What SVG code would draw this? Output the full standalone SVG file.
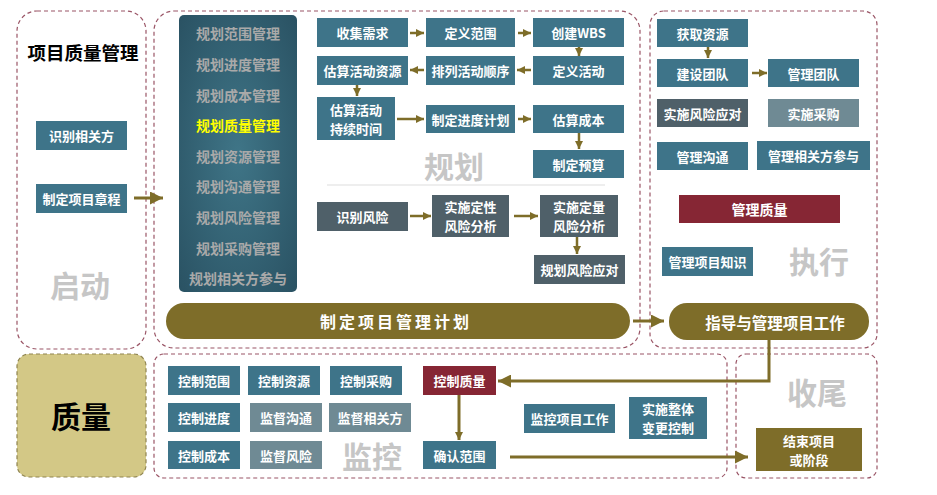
<svg xmlns="http://www.w3.org/2000/svg" width="937" height="495" viewBox="0 0 937 495">
<style>
text{font-family:"Noto Sans CJK SC","Liberation Sans",sans-serif;font-weight:bold;text-anchor:middle;dominant-baseline:central}
.panel{fill:#fff;stroke:#9A5566;stroke-width:1.2;stroke-dasharray:4 3}
.teal{fill:#3E7489}
.slate{fill:#4F6069}
.grayt{fill:#6F8A94}
.red{fill:#862634}
.olive{fill:#7E6D29}
.bt{fill:#fff;font-size:13px}
.pt{fill:#A9A9A9;font-size:14px}
.phase{fill:#C6C6C6;font-size:30px}
.con{stroke:#7E6D29;stroke-width:2.5;fill:none}
.conL{stroke:#7E6D29;stroke-width:3;fill:none}
</style>
<defs>
<marker id="ah" viewBox="0 0 10 10" refX="10" refY="5" markerWidth="8" markerHeight="8" markerUnits="userSpaceOnUse" orient="auto"><path d="M0,0 L10,5 L0,10 z" fill="#7E6D29"/></marker>
<marker id="ahL" viewBox="0 0 10 10" refX="10" refY="5" markerWidth="13" markerHeight="13" markerUnits="userSpaceOnUse" orient="auto"><path d="M0,0 L10,5 L0,10 z" fill="#7E6D29"/></marker>
<radialGradient id="colg" cx="0.5" cy="0.5" r="0.7"><stop offset="0" stop-color="#3F7587"/><stop offset="1" stop-color="#2A5263"/></radialGradient>
</defs>
<rect width="937" height="495" fill="#fff"/>

<g id="panels">
<rect class="panel" x="17" y="11" width="129" height="338" rx="20"/>
<rect class="panel" x="154" y="11" width="486" height="337" rx="20"/>
<rect class="panel" x="650" y="11" width="227" height="337" rx="14"/>
<rect x="17" y="354" width="129" height="123" rx="12" fill="#D3C886" stroke="#8F8450" stroke-width="1.2" stroke-dasharray="4 3"/>
<rect class="panel" x="154" y="354" width="573" height="124" rx="10"/>
<rect class="panel" x="736" y="354" width="141" height="124" rx="10"/>
</g>

<g id="labels">
<text x="83" y="52" style="font-size:18.5px;fill:#000">项目质量管理</text>
<text class="phase" x="80" y="284">启动</text>
<text x="81" y="415" style="font-size:30px;fill:#000">质量</text>
<text class="phase" x="454" y="165">规划</text>
<text class="phase" x="819" y="260">执行</text>
<text class="phase" x="372" y="455">监控</text>
<text class="phase" x="817" y="391">收尾</text>
<line x1="327" y1="185" x2="605" y2="185" stroke="#DDDDDD" stroke-width="1.2"/>
</g>

<g id="n-identify-stakeholders"><rect class="teal" x="36" y="121" width="91" height="29"/><text class="bt" x="81.5" y="135.5">识别相关方</text></g>
<g id="n-charter"><rect class="teal" x="36" y="184" width="91" height="29"/><text class="bt" x="81.5" y="198.5">制定项目章程</text></g>

<g id="n-plan-column">
<rect x="179" y="15" width="118" height="277" rx="5" fill="url(#colg)"/>
<text class="pt" x="238" y="33">规划范围管理</text>
<text class="pt" x="238" y="64">规划进度管理</text>
<text class="pt" x="238" y="95">规划成本管理</text>
<text class="pt" x="238" y="125" style="fill:#FFFF00">规划质量管理</text>
<text class="pt" x="238" y="156">规划资源管理</text>
<text class="pt" x="238" y="186">规划沟通管理</text>
<text class="pt" x="238" y="217">规划风险管理</text>
<text class="pt" x="238" y="248">规划采购管理</text>
<text class="pt" x="238" y="278">规划相关方参与</text>
</g>

<g id="n-collect"><rect class="teal" x="317" y="18" width="91" height="29"/><text class="bt" x="362.5" y="32.5">收集需求</text></g>
<g id="n-define-scope"><rect class="teal" x="426" y="18" width="89" height="29"/><text class="bt" x="470.5" y="32.5">定义范围</text></g>
<g id="n-wbs"><rect class="teal" x="533" y="18" width="91" height="29"/><text class="bt" x="578.5" y="32.5">创建WBS</text></g>
<g id="n-est-res"><rect class="teal" x="317" y="56" width="91" height="29"/><text class="bt" x="362.5" y="70.5">估算活动资源</text></g>
<g id="n-sequence"><rect class="teal" x="426" y="56" width="89" height="29"/><text class="bt" x="470.5" y="70.5">排列活动顺序</text></g>
<g id="n-define-act"><rect class="teal" x="533" y="56" width="91" height="29"/><text class="bt" x="578.5" y="70.5">定义活动</text></g>
<g id="n-duration"><rect class="teal" x="317" y="97" width="78" height="43"/><text class="bt" x="356" y="109">估算活动</text><text class="bt" x="356" y="128">持续时间</text></g>
<g id="n-schedule"><rect class="teal" x="426" y="105" width="89" height="28"/><text class="bt" x="470.5" y="119">制定进度计划</text></g>
<g id="n-cost"><rect class="teal" x="533" y="105" width="91" height="28"/><text class="bt" x="578.5" y="119">估算成本</text></g>
<g id="n-budget"><rect class="teal" x="533" y="150" width="91" height="28"/><text class="bt" x="578.5" y="164">制定预算</text></g>

<g id="n-id-risk"><rect class="slate" x="317" y="202" width="91" height="29"/><text class="bt" x="362.5" y="216.5">识别风险</text></g>
<g id="n-qual-risk"><rect class="slate" x="432" y="195" width="77" height="42"/><text class="bt" x="470.5" y="206.5">实施定性</text><text class="bt" x="470.5" y="225.5">风险分析</text></g>
<g id="n-quant-risk"><rect class="slate" x="540" y="195" width="78" height="42"/><text class="bt" x="579" y="206.5">实施定量</text><text class="bt" x="579" y="225.5">风险分析</text></g>
<g id="n-plan-risk-resp"><rect class="slate" x="534" y="255" width="91" height="29"/><text class="bt" x="579.5" y="269.5">规划风险应对</text></g>

<g id="n-pm-plan"><rect class="olive" x="166" y="303" width="464" height="36" rx="18"/><text x="396" y="321" style="fill:#fff;font-size:16px;letter-spacing:3px">制定项目管理计划</text></g>

<g id="n-acquire"><rect class="teal" x="657" y="19" width="91" height="28"/><text class="bt" x="702.5" y="33">获取资源</text></g>
<g id="n-develop-team"><rect class="teal" x="657" y="59" width="91" height="28"/><text class="bt" x="702.5" y="73">建设团队</text></g>
<g id="n-manage-team"><rect class="teal" x="768" y="59" width="91" height="28"/><text class="bt" x="813.5" y="73">管理团队</text></g>
<g id="n-impl-risk"><rect class="slate" x="657" y="99" width="91" height="28"/><text class="bt" x="702.5" y="113">实施风险应对</text></g>
<g id="n-procure"><rect class="grayt" x="768" y="99" width="91" height="28"/><text class="bt" x="813.5" y="113">实施采购</text></g>
<g id="n-comm"><rect class="teal" x="657" y="142" width="91" height="28"/><text class="bt" x="702.5" y="156">管理沟通</text></g>
<g id="n-engage"><rect class="teal" x="757" y="141" width="113" height="29"/><text class="bt" x="813.5" y="155.5">管理相关方参与</text></g>
<g id="n-manage-quality"><rect class="red" x="679" y="195" width="161" height="28"/><text class="bt" x="759.5" y="209" style="font-size:14px">管理质量</text></g>
<g id="n-knowledge"><rect class="teal" x="662" y="247" width="91" height="29"/><text class="bt" x="707.5" y="261.5">管理项目知识</text></g>
<g id="n-direct"><rect class="olive" x="669" y="303" width="200" height="37" rx="18"/><text x="775" y="321.5" style="fill:#fff;font-size:15.5px">指导与管理项目工作</text></g>

<g id="n-ctrl-scope"><rect class="teal" x="168" y="366" width="72" height="29"/><text class="bt" x="204" y="380.5">控制范围</text></g>
<g id="n-ctrl-res"><rect class="teal" x="248" y="366" width="72" height="29"/><text class="bt" x="284" y="380.5">控制资源</text></g>
<g id="n-ctrl-proc"><rect class="teal" x="330" y="366" width="72" height="29"/><text class="bt" x="366" y="380.5">控制采购</text></g>
<g id="n-ctrl-sched"><rect class="teal" x="168" y="403" width="72" height="29"/><text class="bt" x="204" y="417.5">控制进度</text></g>
<g id="n-mon-comm"><rect class="grayt" x="250" y="403" width="72" height="29"/><text class="bt" x="286" y="417.5">监督沟通</text></g>
<g id="n-mon-stake"><rect class="grayt" x="329" y="403" width="82" height="29"/><text class="bt" x="370" y="417.5">监督相关方</text></g>
<g id="n-ctrl-cost"><rect class="teal" x="168" y="441" width="72" height="28"/><text class="bt" x="204" y="455">控制成本</text></g>
<g id="n-mon-risk"><rect class="grayt" x="250" y="441" width="72" height="28"/><text class="bt" x="286" y="455">监督风险</text></g>
<g id="n-ctrl-quality"><rect class="red" x="423" y="366" width="73" height="29"/><text class="bt" x="459.5" y="380.5">控制质量</text></g>
<g id="n-validate"><rect class="teal" x="423" y="441" width="73" height="28"/><text class="bt" x="459.5" y="455">确认范围</text></g>
<g id="n-monitor-work"><rect class="teal" x="524" y="404" width="91" height="29"/><text class="bt" x="569.5" y="418.5">监控项目工作</text></g>
<g id="n-icc"><rect class="teal" x="629" y="397" width="78" height="42"/><text class="bt" x="668" y="408.5">实施整体</text><text class="bt" x="668" y="427.5">变更控制</text></g>
<g id="n-close"><rect class="olive" x="756" y="428" width="106" height="43"/><text class="bt" x="809" y="440">结束项目</text><text class="bt" x="809" y="459">或阶段</text></g>

<g id="connectors">
<line class="conL" x1="134" y1="198" x2="163" y2="198" marker-end="url(#ahL)"/>
<line class="con" x1="410" y1="33" x2="424" y2="33" marker-end="url(#ah)"/>
<line class="con" x1="518" y1="33" x2="531" y2="33" marker-end="url(#ah)"/>
<line class="con" x1="579" y1="47" x2="579" y2="56" marker-end="url(#ah)"/>
<line class="con" x1="531" y1="70" x2="517" y2="70" marker-end="url(#ah)"/>
<line class="con" x1="424" y1="70" x2="410" y2="70" marker-end="url(#ah)"/>
<line class="con" x1="357" y1="85" x2="357" y2="96" marker-end="url(#ah)"/>
<line class="con" x1="397" y1="119" x2="424" y2="119" marker-end="url(#ah)"/>
<line class="con" x1="518" y1="119" x2="531" y2="119" marker-end="url(#ah)"/>
<line class="con" x1="579" y1="133" x2="579" y2="149" marker-end="url(#ah)"/>
<line class="con" x1="410" y1="216" x2="431" y2="216" marker-end="url(#ah)"/>
<line class="con" x1="514" y1="216" x2="538" y2="216" marker-end="url(#ah)"/>
<line class="con" x1="577" y1="237" x2="577" y2="254" marker-end="url(#ah)"/>
<line class="conL" x1="633" y1="321" x2="664" y2="321" marker-end="url(#ahL)"/>
<line class="con" x1="708" y1="47" x2="708" y2="58" marker-end="url(#ah)"/>
<line class="con" x1="752" y1="73" x2="767" y2="73" marker-end="url(#ah)"/>
<polyline class="conL" points="769,340 769,381 498,381" marker-end="url(#ahL)"/>
<line class="conL" x1="459" y1="395" x2="459" y2="440" marker-end="url(#ah)"/>
<line class="conL" x1="510" y1="457" x2="748" y2="457" marker-end="url(#ahL)"/>
</g>
</svg>
